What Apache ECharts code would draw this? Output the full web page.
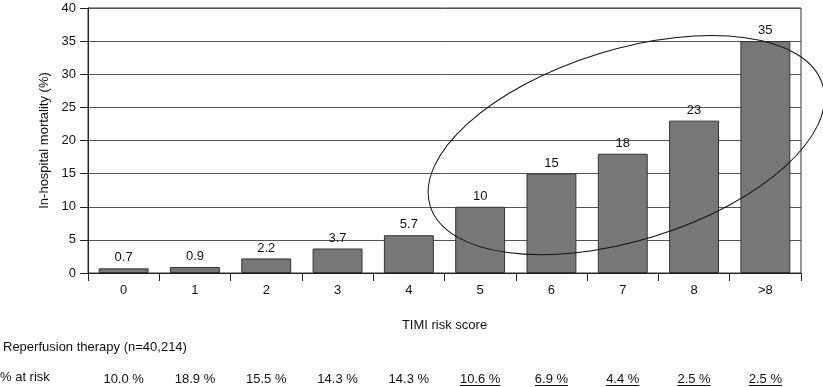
<!DOCTYPE html>
<html>
<head>
<meta charset="utf-8">
<script src="https://cdn.jsdelivr.net/npm/echarts@6/dist/echarts.min.js"></script>
<style>html,body{margin:0;padding:0;background:#fff}#c{width:823px;height:387px}</style>
</head>
<body>
<div id="c"></div>
<script>
const categories = ['0', '1', '2', '3', '4', '5', '6', '7', '8', '>8'];
const mortality = [0.7, 0.9, 2.2, 3.7, 5.7, 10, 15, 18, 23, 35];
const atRisk = ['10.0 %', '18.9 %', '15.5 %', '14.3 %', '14.3 %', '10.6 %', '6.9 %', '4.4 %', '2.5 %', '2.5 %'];
const underlined = [false, false, false, false, false, true, true, true, true, true];
const yTicks = [0, 5, 10, 15, 20, 25, 30, 35, 40];

const FONT = 'Liberation Sans, Arial, Helvetica, sans-serif';
const chart = echarts.init(document.getElementById('c'), null, {renderer: 'canvas'});

const option = {
  animation: false,
  backgroundColor: '#fff',
  textStyle: {fontFamily: FONT},
  grid: {left: 88, right: 22, top: 8, bottom: 114, show: true, borderColor: '#333', borderWidth: 1, containLabel: false},
  xAxis: [{
    type: 'category',
    data: categories,
    name: 'TIMI risk score',
    nameLocation: 'middle',
    nameGap: 46,
    nameTextStyle: {fontSize: 13, color: '#111', fontFamily: FONT},
    axisLine: {lineStyle: {color: '#222', width: 1}},
    axisTick: {show: true, length: 8, inside: false, lineStyle: {color: '#222'}},
    axisLabel: {fontSize: 13, color: '#111', margin: 11, fontFamily: FONT},
    splitLine: {show: false}
  }, {
    type: 'category',
    data: categories,
    position: 'bottom',
    offset: 95,
    axisLine: {show: false},
    axisTick: {show: false},
    axisLabel: {fontSize: 13, color: '#111', margin: 5, fontFamily: FONT,
      formatter: (v, i) => atRisk[i]},
    splitLine: {show: false}
  }],
  yAxis: {
    type: 'value',
    min: 0, max: 40, interval: 5,
    name: 'In-hospital mortality (%)',
    nameLocation: 'middle',
    nameGap: 36,
    nameRotate: 90,
    nameTextStyle: {fontSize: 13, color: '#111', fontFamily: FONT},
    axisLine: {show: true, lineStyle: {color: '#222', width: 1}},
    axisTick: {show: true, length: 8, inside: false, lineStyle: {color: '#222'}},
    axisLabel: {fontSize: 13, color: '#111', margin: 12, fontFamily: FONT,
      formatter: v => yTicks.includes(v) ? String(v) : ''},
    splitLine: {show: true, lineStyle: {color: '#555', width: 1}}
  },
  series: [{
    type: 'bar',
    data: mortality,
    barCategoryGap: '30%',
    itemStyle: {color: '#777', borderColor: '#333', borderWidth: 1},
    label: {show: true, position: 'top', distance: 4, fontSize: 13, color: '#111', fontFamily: FONT,
      formatter: p => String(p.value)}
  }],
  graphic: [
    {type: 'text', left: 3, top: 341, style: {text: 'Reperfusion therapy (n=40,214)', fontSize: 13, fill: '#111', fontFamily: FONT}},
    {type: 'text', left: 0, top: 371, style: {text: '% at risk', fontSize: 13, fill: '#111', fontFamily: FONT}}
  ]
};
chart.setOption(option);

// Annotation: ellipse around scores 5..>8, anchored in data space
const ellipseCenterCat = 7.05;   // category index
const ellipseCenterVal = 19.3;   // mortality value
const ellipseRxCats = 2.88;      // semi-major axis in category widths
const ellipseRyVals = 14.4;      // semi-minor axis in value units
const ellipseTiltDeg = 17.2;

const p0 = chart.convertToPixel({xAxisIndex: 0}, categories[0]);
const p1 = chart.convertToPixel({xAxisIndex: 0}, categories[1]);
const band = p1 - p0;
const cx = p0 + ellipseCenterCat * band;
const cy = chart.convertToPixel({yAxisIndex: 0}, ellipseCenterVal);
const yZero = chart.convertToPixel({yAxisIndex: 0}, 0);
const yUnit = yZero - chart.convertToPixel({yAxisIndex: 0}, 1);

const ctx = document.createElement('canvas').getContext('2d');
ctx.font = '13px ' + FONT;
const extra = [{
  type: 'ellipse', x: cx, y: cy, rotation: ellipseTiltDeg * Math.PI / 180,
  shape: {cx: 0, cy: 0, rx: ellipseRxCats * band, ry: ellipseRyVals * yUnit},
  style: {fill: 'none', stroke: '#111', lineWidth: 1}, z: 100
}];
atRisk.forEach((t, i) => {
  if (!underlined[i]) return;
  const xc = chart.convertToPixel({xAxisIndex: 1}, categories[i]);
  const w = ctx.measureText(t).width;
  extra.push({type: 'line', shape: {x1: xc - w / 2, y1: 385.5, x2: xc + w / 2, y2: 385.5},
    style: {stroke: '#111', lineWidth: 1}});
});
chart.setOption({graphic: option.graphic.concat(extra)});
</script>
</body>
</html>
